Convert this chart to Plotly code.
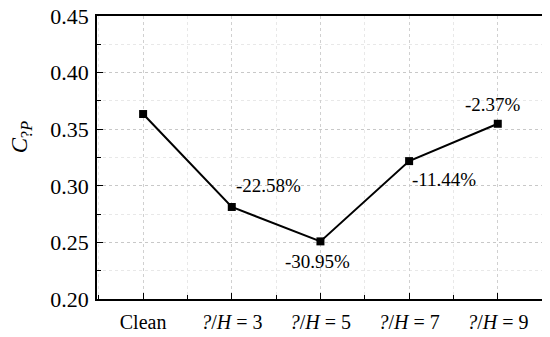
import plotly.graph_objects as go

categories = ["Clean", "<i>?</i>/<i>H</i> = 3", "<i>?</i>/<i>H</i> = 5", "<i>?</i>/<i>H</i> = 7", "<i>?</i>/<i>H</i> = 9"]
cp_values = [0.3634, 0.2813, 0.2509, 0.3218, 0.3548]
pct_labels = ["", "-22.58%", "-30.95%", "-11.44%", "-2.37%"]
y_ticks = [0.20, 0.25, 0.30, 0.35, 0.40, 0.45]

FONT = "Liberation Serif"
xpos = list(range(len(categories)))

fig = go.Figure()
fig.add_trace(go.Scatter(
    x=xpos, y=cp_values, mode="lines+markers",
    line=dict(color="black", width=2),
    marker=dict(symbol="square", size=8, color="black"),
    showlegend=False, cliponaxis=False,
))

offsets = [None, (0.41, 0.0186), (-0.03, -0.0177), (0.39, -0.016), (-0.05, 0.017)]
for i, lab in enumerate(pct_labels):
    if not lab:
        continue
    dx, dy = offsets[i]
    fig.add_annotation(x=xpos[i] + dx, y=cp_values[i] + dy, text=lab, showarrow=False,
                       font=dict(family=FONT, size=19, color="black"))

fig.add_annotation(xref="paper", yref="paper", x=-0.170, y=0.572, xanchor="center", yanchor="middle",
                   text="<i>C</i><sub>?<i>P</i></sub>",
                   showarrow=False, textangle=-90, font=dict(family=FONT, size=23, color="black"))

# page body has an 8px default margin; compensate in the figure size/margins
fig.update_layout(
    width=542, height=329,
    margin=dict(l=89, r=7, t=8, b=38, autoexpand=False),
    paper_bgcolor="white", plot_bgcolor="white",
    font=dict(family=FONT, size=19, color="black"),
)
fig.update_xaxes(
    range=[-0.52, 4.51], tickmode="array", tickvals=xpos, ticktext=categories,
    ticks="inside", ticklen=6, tickcolor="black", tickwidth=1, ticklabelstandoff=4,
    ticklabeloverflow="allow", automargin=False,
    showline=True, linecolor="black", linewidth=1.5, mirror=True,
    showgrid=True, gridcolor="#d0d0d0", griddash="dot", gridwidth=1,
    minor=dict(dtick=0.5, tick0=-0.5, ticks="inside", ticklen=4, tickcolor="black",
               showgrid=True, gridcolor="#e8e8e8", griddash="dot"),
    tickfont=dict(family=FONT, size=20, color="black"), zeroline=False,
)
fig.update_yaxes(
    range=[0.20, 0.45], tickmode="array", tickvals=y_ticks, tickformat=".2f",
    ticks="inside", ticklen=6, tickcolor="black", tickwidth=1, ticklabelstandoff=2,
    ticklabeloverflow="allow", automargin=False,
    showline=True, linecolor="black", linewidth=1.5, mirror=True,
    showgrid=True, gridcolor="#c8c8c8", griddash="dot", gridwidth=1,
    minor=dict(dtick=0.025, tick0=0.2, ticks="inside", ticklen=4, tickcolor="black",
               showgrid=True, gridcolor="#e8e8e8", griddash="dot"),
    tickfont=dict(family=FONT, size=22, color="black"), zeroline=False,
)

fig.write_html("out.html")
